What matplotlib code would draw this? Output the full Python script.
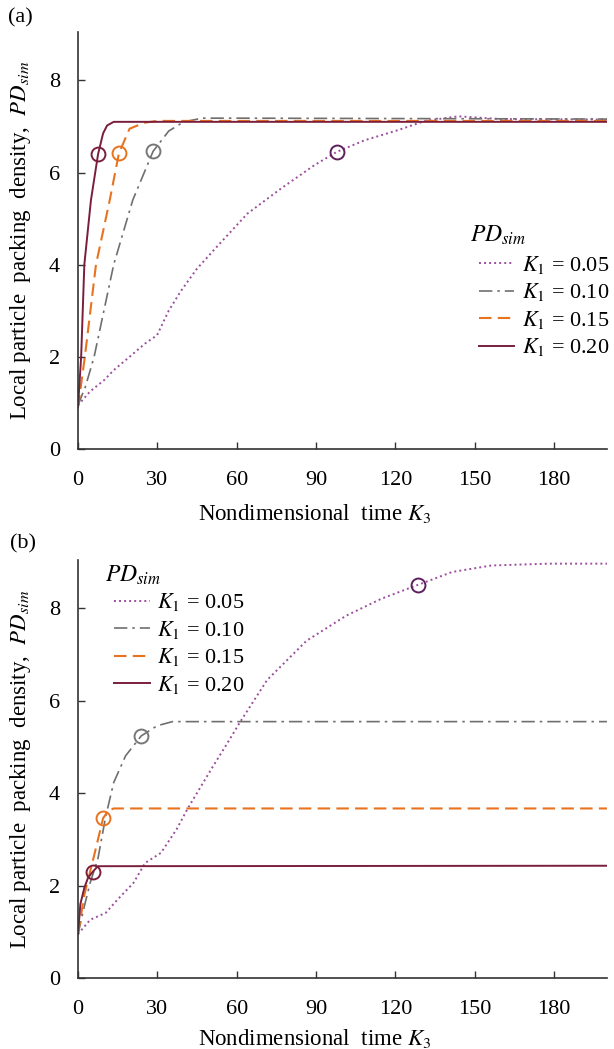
import matplotlib
matplotlib.use("Agg")
import matplotlib.pyplot as plt

plt.rcParams["font.family"] = ["Liberation Serif", "DejaVu Serif"]
plt.rcParams["mathtext.fontset"] = "stix"

# ---- panel (a) ----
a_k05_x = [0, 4.6, 10, 13.5, 19.5, 25.4, 29.9, 34.3, 38.7, 44.8, 51.4, 64.1, 76.7, 89.4, 97.9, 108.4, 121, 131.2, 143.8, 160, 200]
a_k05_y = [0.95, 1.25, 1.5, 1.71, 2.0, 2.29, 2.47, 3.0, 3.41, 3.9, 4.32, 5.11, 5.65, 6.16, 6.45, 6.7, 6.92, 7.12, 7.22, 7.16, 7.15]
a_k10_x = [0, 2.8, 6.1, 13.5, 20.7, 28.4, 34.3, 40, 47, 60, 200]
a_k10_y = [0.95, 1.35, 2.0, 4.0, 5.4, 6.46, 6.9, 7.1, 7.18, 7.18, 7.16]
a_k15_x = [0, 2.6, 6.8, 12, 15.5, 19.5, 25, 30, 200]
a_k15_y = [0.9, 2.0, 4.0, 5.4, 6.42, 6.95, 7.08, 7.12, 7.12]
a_k20_x = [0, 1.2, 2.4, 4.9, 7.6, 9.5, 11, 13.5, 200]
a_k20_y = [0.9, 2.0, 4.0, 5.4, 6.4, 6.85, 7.02, 7.1, 7.1]
a_mark_x = [97.9, 28.4, 15.5, 7.6]
a_mark_y = [6.45, 6.46, 6.42, 6.4]

# ---- panel (b) ----
b_k05_x = [0, 4.6, 10.5, 15, 21, 25.4, 31.4, 37.3, 41.5, 50.7, 55.9, 61.4, 71.5, 86.4, 101.3, 114.7, 128.5, 141.5, 156.3, 178, 200]
b_k05_y = [0.95, 1.26, 1.41, 1.7, 2.06, 2.49, 2.71, 3.22, 3.67, 4.55, 5.03, 5.55, 6.45, 7.3, 7.84, 8.21, 8.51, 8.79, 8.93, 8.97, 8.97]
b_k10_x = [0, 2.4, 4.6, 7.5, 10.5, 13.5, 18, 23.9, 29.9, 35.7, 200]
b_k10_y = [0.95, 1.55, 2.06, 2.57, 3.5, 4.23, 4.81, 5.24, 5.46, 5.55, 5.55]
b_k15_x = [0, 2.4, 6.1, 9.5, 11.5, 13.5, 200]
b_k15_y = [0.95, 1.8, 2.65, 3.46, 3.62, 3.67, 3.67]
b_k20_x = [0, 0.9, 2.4, 3.8, 5.6, 7.5, 200]
b_k20_y = [0.95, 1.6, 1.95, 2.17, 2.3, 2.42, 2.43]
b_mark_x = [128.5, 23.9, 9.5, 5.6]
b_mark_y = [8.51, 5.24, 3.46, 2.3]

labels = ["$K_1$ = 0.05", "$K_1$ = 0.10", "$K_1$ = 0.15", "$K_1$ = 0.20"]
colors = ["#9a4f9c", "#6f6f6f", "#e8731f", "#7a1e3c"]
mark_colors = ["#5e1f5e", "#777777", "#e8731f", "#7a1e3c"]
styles = [(0, (1, 1.6)), (0, (8, 3, 1.5, 3)), (0, (6, 3)), "-"]
widths = [1.4, 1.2, 1.5, 1.4]

fig = plt.figure(figsize=(6.14, 10.49), dpi=100)
ax1 = fig.add_axes([0.127, 0.572, 0.8615, 0.3975])
ax2 = fig.add_axes([0.127, 0.0677, 0.8615, 0.3985])

panels = [
    (ax1, [(a_k05_x, a_k05_y), (a_k10_x, a_k10_y), (a_k15_x, a_k15_y), (a_k20_x, a_k20_y)], a_mark_x, a_mark_y),
    (ax2, [(b_k05_x, b_k05_y), (b_k10_x, b_k10_y), (b_k15_x, b_k15_y), (b_k20_x, b_k20_y)], b_mark_x, b_mark_y),
]

for ax, series, mx, my in panels:
    for i, (xs, ys) in enumerate(series):
        ax.plot(xs, ys, color=colors[i], linestyle=styles[i], lw=widths[i], label=labels[i])
    for i in range(4):
        ax.plot(mx[i], my[i], "o", ms=10, mfc="none", mec=mark_colors[i], mew=1.4)
    ax.set_xlim(0, 200)
    ax.set_ylim(0, 9.05)
    ax.set_xticks([0, 30, 60, 90, 120, 150, 180])
    ax.set_yticks([0, 2, 4, 6, 8])
    ax.spines["top"].set_visible(False)
    ax.spines["right"].set_visible(False)
    for s in ["left", "bottom"]:
        ax.spines[s].set_color("#333333")
        ax.spines[s].set_linewidth(1.2)
    ax.tick_params(axis="x", direction="in", length=5, width=1, color="#333333", labelsize=16, pad=16)
    ax.tick_params(axis="y", direction="in", length=5, width=1, color="#333333", labelsize=16, pad=13)
    ax.set_xlabel("Nondimensional  time $K_3$", fontsize=16.5)
    ax.set_ylabel("Local particle  packing  density,  $PD_{sim}$", fontsize=16.5)
    ax.yaxis.set_label_coords(-0.085, 0.5)

ax1.xaxis.set_label_coords(0.448, -0.128)
ax2.xaxis.set_label_coords(0.448, -0.118)

leg_kw = dict(loc="upper left", frameon=False, fontsize=16, handlelength=1.6,
              handletextpad=0.35, labelspacing=0.25, borderpad=0, borderaxespad=0)
ax1.legend(bbox_to_anchor=(0.758, 0.468), **leg_kw)
ax1.text(0.741, 0.513, "$PD_{sim}$", transform=ax1.transAxes, fontsize=17, va="center")
ax2.legend(bbox_to_anchor=(0.068, 0.925), **leg_kw)
ax2.text(0.051, 0.963, "$PD_{sim}$", transform=ax2.transAxes, fontsize=17, va="center")

fig.text(0.013, 0.983, "(a)", fontsize=16, va="center")
fig.text(0.016, 0.482, "(b)", fontsize=16, va="center")

fig.savefig("out.png", dpi=100)
